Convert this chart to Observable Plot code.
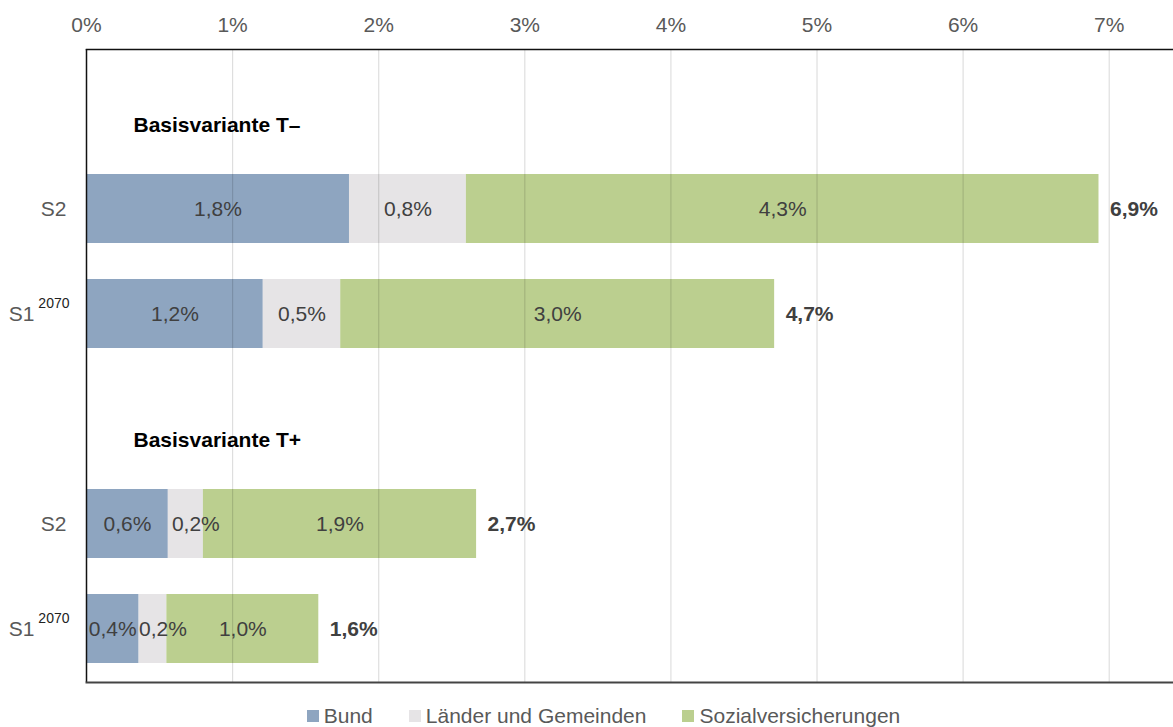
<!DOCTYPE html>
<html>
<head>
<meta charset="utf-8">
<script src="https://cdn.jsdelivr.net/npm/d3@7"></script>
<script src="https://cdn.jsdelivr.net/npm/@observablehq/plot@0.6"></script>
<style>
  body { margin: 0; background: #fff; font-family: "Liberation Sans", Arial, sans-serif; }
  #legend { display: flex; justify-content: center; gap: 36px; font-size: 21px; color: #595959; height: 27px; align-items: center; padding-left: 34px; margin-top: 2px; }
  #legend span.item { display: flex; align-items: center; }
  #legend span.sw { display: inline-block; width: 12px; height: 12px; margin-right: 5px; }
</style>
</head>
<body>
<div id="chart"></div>
<div id="legend"></div>
<script>
// ---- data ----
const groups = ["Basisvariante T–", "Basisvariante T+"];
const scenarios = ["S2", "S1"];
const superscripts = ["", "2070"];
const sectors = ["Bund", "Länder und Gemeinden", "Sozialversicherungen"];
const colors = ["#8EA5C0", "#E6E4E6", "#BBCF8F"];
const bund    = [1.80, 1.21, 0.56, 0.36];
const laender = [0.80, 0.53, 0.24, 0.19];
const sozial  = [4.33, 2.97, 1.87, 1.04];
const xTicks = [0, 1, 2, 3, 4, 5, 6, 7];

// ---- build tables ----
const rowDomain = [];
const rows = [];
groups.forEach((g, gi) => {
  rowDomain.push("hdr" + gi);
  scenarios.forEach((s, si) => {
    const id = gi + "|" + s;
    rowDomain.push(id);
    rows.push({id, scenario: s, sup: superscripts[si], idx: gi * 2 + si});
  });
});
const series = [bund, laender, sozial];
const data = [];
rows.forEach(r => {
  let acc = 0;
  sectors.forEach((sec, k) => {
    const v = series[k][r.idx];
    data.push({row: r.id, sector: sec, value: v, mid: acc + v / 2});
    acc += v;
  });
});
const totals = rows.map(r => ({row: r.id, value: bund[r.idx] + laender[r.idx] + sozial[r.idx]}));
const headers = groups.map((g, gi) => ({row: "hdr" + gi, label: g}));
const fmt = v => d3.format(".1f")(v).replace(".", ",") + "%";
const narrow = d => d.sector === sectors[1] && d.value < 0.3;

const chart = Plot.plot({
  width: 1173,
  height: 700,
  marginTop: 49,
  marginBottom: 18,
  marginLeft: 86,
  marginRight: 0,
  style: {fontFamily: "'Liberation Sans', Arial, sans-serif", fontSize: "21px", background: "#fff"},
  x: {domain: [0, 7.44], axis: null, label: null},
  y: {domain: rowDomain, padding: 0, axis: null, label: null},
  color: {domain: sectors, range: colors},
  marks: [
    Plot.axisX(xTicks, {anchor: "top", label: null, tickSize: 0, tickPadding: 18, tickFormat: d => d + "%", fill: "#595959", fontSize: 21}),
    Plot.barX(data, Plot.stackX({x: "value", y: "row", fill: "sector", insetTop: 18, insetBottom: 18, order: sectors})),
    Plot.gridX(xTicks.slice(1), {stroke: "#000", strokeOpacity: 0.13, strokeWidth: 1.2}),
    Plot.text(data.filter(d => !narrow(d)), {x: "mid", y: "row", text: d => fmt(d.value), fill: "#404040", fontSize: 21}),
    Plot.text(data.filter(narrow), {x: "mid", y: "row", text: d => fmt(d.value), dx: 10, fill: "#404040", fontSize: 21}),
    Plot.text(totals, {x: "value", y: "row", text: d => fmt(d.value), textAnchor: "start", dx: 11, fontWeight: "bold", fill: "#404040", fontSize: 21}),
    Plot.text(headers, {x: 0, y: "row", text: "label", textAnchor: "start", dx: 47, dy: 21, fontWeight: "bold", fill: "#000", fontSize: 21}),
    Plot.text(rows.filter(r => !r.sup), {x: 0, y: "id", text: "scenario", textAnchor: "end", dx: -20, fill: "#595959", fontSize: 21}),
    Plot.text(rows.filter(r => r.sup), {x: 0, y: "id", text: "scenario", textAnchor: "end", dx: -52, fill: "#595959", fontSize: 21}),
    Plot.text(rows.filter(r => r.sup), {x: 0, y: "id", text: "sup", textAnchor: "end", dx: -17, dy: -10, fill: "#222", fontSize: 14}),
    Plot.ruleX([0], {stroke: "#111", strokeWidth: 1.5}),
    Plot.frame({anchor: "top", stroke: "#111", strokeWidth: 1.5}),
    Plot.frame({anchor: "bottom", stroke: "#444", strokeWidth: 2})
  ]
});
document.getElementById("chart").appendChild(chart);

const legend = document.getElementById("legend");
sectors.forEach((s, i) => {
  const item = document.createElement("span");
  item.className = "item";
  const sw = document.createElement("span");
  sw.className = "sw";
  sw.style.background = colors[i];
  item.appendChild(sw);
  item.appendChild(document.createTextNode(s));
  legend.appendChild(item);
});
</script>
</body>
</html>
